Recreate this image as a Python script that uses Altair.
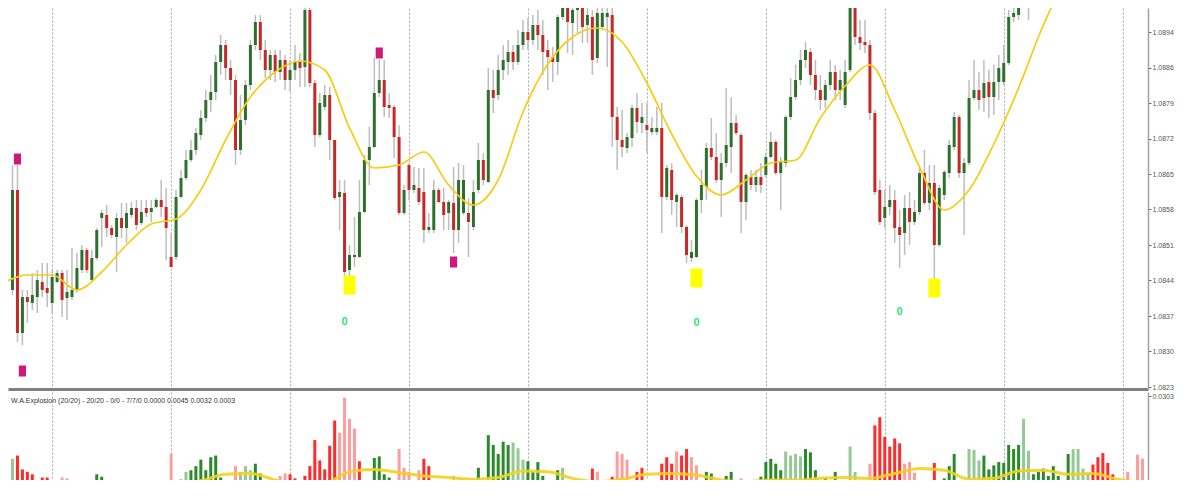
import altair as alt
import pandas as pd

# ---------------- data (prices in points of 1e-5 above PRICE_BASE) ----------------
PRICE_BASE = 1.08

open_pts = [
    424, 490, 420, 620, 334, 406, 394, 406, 436, 424,
    394, 436, 454, 404, 406, 420, 460, 500, 440, 484,
    564, 570, 544, 526, 564, 544, 570, 584, 554, 584,
    576, 586, 600, 586, 486, 486, 606, 644, 680, 700,
    730, 764, 800, 816, 876, 910, 864, 840, 700, 760,
    830, 910, 956, 900, 860, 890, 856, 880, 840, 860,
    876, 866, 980, 834, 730, 786, 810, 720, 606, 614,
    460, 486, 486, 576, 680, 706, 814, 840, 790, 786,
    726, 574, 670, 620, 624, 616, 540, 540, 620, 596,
    574, 594, 540, 574, 574, 546, 620, 680, 636, 820,
    810, 860, 876, 896, 876, 910, 936, 920, 950, 930,
    900, 886, 876, 966, 1000, 954, 980, 1004, 950, 966,
    884, 946, 966, 970, 766, 720, 704, 724, 784, 754,
    750, 736, 736, 744, 606, 660, 596, 606, 546, 484,
    486, 600, 626, 704, 686, 640, 674, 706, 754, 730,
    596, 646, 630, 646, 650, 686, 716, 654, 674, 766,
    806, 840, 880, 896, 850, 820, 800, 830, 856, 820,
    790, 860, 994, 926, 916, 910, 774, 620, 564, 586,
    600, 546, 534, 584, 556, 576, 654, 594, 634, 510,
    610, 654, 706, 766, 654, 674, 804, 820, 804, 836,
    806, 836, 836, 874, 966, 970, 996, 1010, 1020, 1030,
    1024, 1040, 1050, 1060, 1070, 1080, 1090, 1100, 1110, 1120,
    1116, 1130, 1120, 1110, 1120, 1100, 1090, 1080, 1070, 1060,
    1040, 1010, 990, 1004,
]
close_pts = [
    490, 430, 620, 334, 406, 396, 410, 440, 420, 414,
    446, 454, 400, 416, 420, 464, 500, 460, 484, 540,
    574, 544, 530, 564, 544, 574, 584, 550, 576, 574,
    584, 600, 586, 544, 466, 606, 644, 680, 700, 734,
    764, 800, 816, 876, 910, 864, 840, 700, 760, 830,
    910, 956, 900, 860, 890, 856, 880, 840, 860, 876,
    864, 980, 834, 730, 794, 810, 720, 604, 616, 456,
    490, 490, 576, 680, 706, 814, 840, 786, 784, 726,
    574, 620, 620, 630, 596, 540, 546, 620, 596, 570,
    596, 540, 640, 640, 556, 616, 680, 640, 820, 804,
    860, 880, 896, 876, 910, 936, 920, 950, 930, 896,
    886, 876, 966, 1000, 956, 980, 1004, 946, 970, 880,
    974, 974, 974, 766, 720, 706, 726, 784, 756, 766,
    740, 744, 744, 606, 664, 600, 610, 546, 490, 496,
    600, 630, 704, 686, 640, 674, 710, 754, 734, 596,
    650, 630, 646, 630, 686, 716, 654, 676, 766, 806,
    840, 880, 900, 850, 820, 800, 830, 856, 820, 840,
    856, 994, 926, 914, 910, 774, 616, 556, 586, 600,
    544, 530, 584, 556, 576, 654, 594, 634, 510, 624,
    656, 710, 766, 654, 674, 804, 820, 800, 834, 806,
    836, 864, 874, 966, 974, 1000, 1010, 1020, 1030, 1024,
    1040, 1050, 1060, 1070, 1080, 1090, 1100, 1110, 1120, 1116,
    1130, 1120, 1110, 1120, 1100, 1090, 1080, 1070, 1060, 1050,
    1020, 990, 1004, 994,
]
high_pts = [
    510, 500, 670, 670, 420, 420, 454, 460, 474, 474,
    460, 460, 460, 460, 504, 494, 510, 504, 500, 544,
    580, 590, 550, 574, 594, 594, 596, 600, 600, 600,
    600, 604, 640, 624, 534, 620, 660, 700, 720, 744,
    780, 820, 850, 890, 930, 920, 880, 850, 810, 840,
    920, 970, 970, 920, 900, 900, 900, 890, 880, 910,
    894, 1000, 1000, 840, 814, 830, 826, 720, 640, 640,
    510, 566, 640, 690, 746, 884, 880, 880, 814, 790,
    750, 630, 674, 666, 664, 664, 574, 640, 624, 624,
    600, 666, 674, 670, 604, 640, 714, 694, 864, 860,
    890, 910, 920, 910, 940, 960, 964, 970, 980, 960,
    920, 906, 970, 1010, 1016, 1000, 1020, 1020, 986, 980,
    984, 1004, 1004, 1010, 786, 780, 734, 790, 814, 794,
    794, 766, 786, 794, 670, 674, 614, 610, 550, 520,
    604, 660, 714, 764, 734, 694, 824, 806, 770, 734,
    654, 660, 660, 674, 694, 736, 720, 686, 770, 844,
    870, 900, 916, 904, 880, 850, 840, 880, 870, 860,
    880, 1000, 1010, 960, 960, 920, 780, 640, 620, 630,
    620, 580, 610, 616, 600, 664, 700, 670, 670, 630,
    660, 720, 776, 770, 684, 840, 880, 856, 880, 860,
    870, 890, 910, 980, 1000, 1020, 1024, 1040, 1050, 1050,
    1060, 1070, 1080, 1090, 1100, 1110, 1120, 1130, 1140, 1140,
    1150, 1150, 1140, 1140, 1136, 1120, 1110, 1100, 1090, 1080,
    1060, 1030, 1020, 1020,
]
low_pts = [
    400, 420, 410, 316, 310, 354, 380, 374, 406, 386,
    374, 434, 366, 360, 400, 414, 454, 454, 436, 480,
    506, 526, 524, 456, 524, 514, 564, 540, 550, 566,
    556, 584, 566, 480, 466, 480, 604, 640, 676, 690,
    720, 756, 776, 800, 850, 840, 810, 670, 690, 750,
    820, 900, 880, 844, 840, 836, 840, 820, 816, 840,
    826, 826, 826, 706, 726, 780, 680, 600, 540, 446,
    446, 466, 484, 574, 630, 704, 806, 766, 764, 684,
    570, 570, 600, 614, 590, 514, 534, 534, 594, 540,
    540, 494, 514, 570, 486, 540, 614, 630, 634, 774,
    800, 840, 850, 860, 870, 900, 900, 910, 900, 850,
    820, 836, 850, 960, 894, 890, 934, 914, 914, 850,
    874, 940, 866, 706, 660, 686, 694, 706, 734, 734,
    694, 730, 730, 534, 600, 570, 546, 534, 474, 476,
    484, 574, 600, 680, 634, 566, 666, 654, 730, 534,
    560, 620, 616, 614, 646, 684, 650, 580, 666, 760,
    800, 830, 864, 830, 800, 780, 784, 820, 800, 800,
    784, 856, 910, 900, 894, 760, 610, 550, 544, 570,
    514, 464, 490, 510, 550, 570, 590, 580, 440, 506,
    600, 644, 700, 644, 530, 670, 800, 780, 776, 764,
    770, 800, 830, 870, 956, 960, 986, 960, 986, 990,
    1004, 1010, 994, 1044, 1054, 1064, 1074, 1084, 1094, 1100,
    1100, 1104, 1094, 1094, 1084, 1074, 1064, 1054, 1044, 1034,
    1010, 934, 950, 980,
]

# yellow moving average, read at every 5th bar
ma_bars = [0, 5, 10, 15, 20, 25, 30, 35, 40, 45, 50, 55, 60, 65, 70, 75,
           80, 85, 90, 95, 100, 105, 110, 115, 120, 125, 130, 135, 140, 145,
           150, 155, 160, 165, 170, 175, 180, 185, 190, 195, 200, 205, 210,
           215, 220, 225, 230, 233]
ma_pts = [434, 450, 450, 420, 456, 510, 552, 562, 620, 720, 806, 856, 878,
          860, 744, 664, 670, 696, 630, 590, 640, 776, 872, 926, 944, 916,
          834, 732, 648, 610, 640, 674, 680, 764, 828, 870, 780, 666, 580,
          620, 712, 824, 950, 1050, 1120, 1160, 1180, 1184]

# signal markers (bar index, price points)
pink_bars, pink_pts = [3, 4, 76, 91], [682, 258, 894, 476]
yellow_bars, yellow_pts = [70, 140, 188], [430, 444, 424]
green_bars, green_pts = [69, 140, 181], [356, 354, 376]

# Waddah Attar Explosion histogram (units of 1e-4)
wae_hist = [
    207, 224, 226, 230, 213, 210, 207, 195, 203, 203,
    190, 188, 203, 202, 192, 185, 185, 188, 192, 207,
    204, 195, 190, 185, 185, 185, 188, 188, 190, 190,
    188, 190, 192, 197, 232, 195, 201, 210, 212, 217,
    225, 212, 228, 230, 203, 195, 197, 217, 210, 217,
    212, 220, 208, 198, 194, 196, 205, 208, 207, 202,
    198, 205, 217, 249, 224, 213, 242, 273, 258, 301,
    275, 263, 223, 197, 194, 227, 229, 207, 203, 195,
    238, 215, 210, 197, 212, 226, 217, 195, 192, 196,
    198, 205, 194, 190, 192, 197, 215, 200, 255, 243,
    232, 247, 243, 246, 239, 225, 223, 210, 222, 205,
    197, 195, 212, 215, 198, 194, 192, 190, 195, 214,
    210, 198, 200, 204, 235, 232, 225, 197, 210, 215,
    198, 195, 197, 220, 228, 220, 235, 230, 238, 228,
    218, 200, 210, 208, 197, 198, 205, 210, 197, 202,
    195, 192, 197, 204, 222, 226, 220, 212, 235, 230,
    232, 229, 238, 234, 212, 200, 203, 198, 210, 197,
    200, 241, 210, 198, 200, 220, 267, 277, 253, 241,
    251, 245, 220, 222, 209, 197, 195, 200, 221, 197,
    202, 217, 232, 198, 200, 238, 237, 224, 230, 213,
    218, 222, 221, 243, 238, 243, 275, 236, 207, 210,
    214, 205, 217, 205, 198, 232, 238, 238, 214, 209,
    219, 228, 233, 221, 207, 198, 195, 210, 200, 231,
    226, 240, 227, 221,
]
wae_color = list(
    "rggRRRRRRR" "RrrrrrGGGG" "GGggrrGGGg" "gGrrrrggGG" "GGGGGggrgg"
    "gGGGgrrrRR" "RRRRRRRRrr" "rrRRGGGGGr" "rrrrrRRRRr" "rrrGGGGGGG"
    "GGGgggGGGG" "ggGgggGrrR" "rrRRrrrrRR" "RrRRRRrRRr" "rrGGgGGGgr"
    "rGGGGGGGgg" "ggGGGGGgGg" "gggrrrRRRR" "RRrrrrRRRG" "GGGGggggGG"
    "GGGGGGggGG" "GGGGGGgggg" "RRRRRrrrrr" "rrRR"
)
wae_line_bars = ma_bars
wae_line = [190, 192, 190, 188, 188, 190, 192, 195, 199, 207, 208, 200, 194,
            196, 210, 213, 209, 205, 203, 201, 203, 211, 210, 202, 198, 201,
            207, 208, 206, 200, 198, 200, 200, 202, 203, 202, 208, 214, 212,
            201, 202, 211, 212, 207, 208, 201, 197, 195]

price_ticks = [1.08936, 1.08865, 1.08794, 1.08723, 1.08652, 1.08581,
               1.08510, 1.08439, 1.08368, 1.08297, 1.08226]
wae_ticks = [0.0303]
grid_bars = [10, 34, 58, 82, 106, 130, 154, 178, 202, 226]
indicator_label = "W.A.Explosion (20/20) - 20/20 - 0/0 - 7/7/0  0.0000 0.0045 0.0032 0.0003"

# ---------------- frames ----------------
def px(v):
    return PRICE_BASE + v / 1e5

n = min(len(open_pts), len(close_pts), len(high_pts), len(low_pts))
candles = pd.DataFrame({
    "bar": list(range(n)),
    "open": [px(v) for v in open_pts[:n]],
    "close": [px(v) for v in close_pts[:n]],
    "high": [px(v) for v in high_pts[:n]],
    "low": [px(v) for v in low_pts[:n]],
})
candles["dir"] = ["up" if c >= o else "down" for o, c in zip(candles["open"], candles["close"])]

ma_df = pd.DataFrame({"bar": ma_bars, "ma": [px(v) for v in ma_pts]})
pink_df = pd.DataFrame({"bar": pink_bars, "p": [px(v) for v in pink_pts]})
yellow_df = pd.DataFrame({"bar": yellow_bars, "p": [px(v) for v in yellow_pts]})
green_df = pd.DataFrame({"bar": green_bars, "p": [px(v) for v in green_pts]})

m = min(len(wae_hist), len(wae_color))
hist_df = pd.DataFrame({"bar": list(range(m)),
                        "h": [v / 1e4 for v in wae_hist[:m]],
                        "c": wae_color[:m]})
wline_df = pd.DataFrame({"bar": wae_line_bars, "w": [v / 1e4 for v in wae_line]})
label_df = pd.DataFrame({"t": [indicator_label]})

# ---------------- scales / axes ----------------
W = 1140
H_MAIN = 381
H_SUB = 88
X0 = 2.1
X1 = X0 + W / 5.0

xscale = alt.Scale(domain=[X0, X1], nice=False, zero=False)
x_main_axis = alt.Axis(values=grid_bars, grid=True, gridDash=[2, 2], gridColor="#a8a8a8",
                       gridWidth=1, labels=False, ticks=False, domain=True,
                       domainColor="#808080", domainWidth=3, title=None)
x_sub_axis = alt.Axis(values=grid_bars, grid=True, gridDash=[2, 2], gridColor="#a8a8a8",
                      gridWidth=1, labels=False, ticks=False, domain=False, title=None)

yscale = alt.Scale(domain=[1.08222, 1.08984], nice=False, zero=False)
y_axis = alt.Axis(orient="right", values=price_ticks, format=".4f", grid=False,
                  domainColor="#a0a0a0", domainWidth=1.5, tickColor="#666", tickSize=3,
                  labelFontSize=7, labelColor="#555", labelPadding=1, title=None)
wscale = alt.Scale(domain=[0.0200, 0.0308], nice=False, zero=False)
w_axis = alt.Axis(orient="right", values=wae_ticks, format=".4f", grid=False,
                  domainColor="#a0a0a0", domainWidth=1.5, tickColor="#666", tickSize=3,
                  labelFontSize=7, labelColor="#555", labelPadding=1, title=None)

in_view = alt.FieldRangePredicate(field="bar", range=[X0 - 0.3, X1 + 0.3])

X = alt.X("bar:Q", scale=xscale, axis=x_main_axis)
Xs = alt.X("bar:Q", scale=xscale, axis=x_sub_axis)

wick = alt.Chart(candles).transform_filter(in_view).mark_rule(
    clip=True, color="#bdbdbd", strokeWidth=1.5).encode(
    x=X, y=alt.Y("low:Q", scale=yscale, axis=y_axis), y2="high:Q")
body = alt.Chart(candles).transform_filter(in_view).mark_bar(clip=True, size=3).encode(
    x=X, y=alt.Y("open:Q", scale=yscale, axis=y_axis), y2="close:Q",
    color=alt.Color("dir:N", scale=alt.Scale(domain=["up", "down"], range=["#2e6f2e", "#c62828"]),
                    legend=None))
ma = alt.Chart(ma_df).mark_line(clip=True, interpolate="monotone", color="#f7cd12",
                                strokeWidth=1.7).encode(
    x=X, y=alt.Y("ma:Q", scale=yscale, axis=y_axis))
pink = alt.Chart(pink_df).mark_point(clip=True, shape="M-0.65,-1H0.65V1H-0.65Z", size=121,
                                     filled=True, color="#d0177c", opacity=1).encode(
    x=X, y=alt.Y("p:Q", scale=yscale, axis=y_axis))
yellow = alt.Chart(yellow_df).mark_point(clip=True, shape="M-0.63,-1H0.63V1H-0.63Z", size=361,
                                         filled=True, color="#ffff00", opacity=1).encode(
    x=X, y=alt.Y("p:Q", scale=yscale, axis=y_axis))
green = alt.Chart(green_df).mark_text(clip=True, text="0", fontSize=11, fontWeight="bold",
                                      color="#2fe07c", font="Liberation Sans").encode(
    x=X, y=alt.Y("p:Q", scale=yscale, axis=y_axis))

main = alt.layer(wick, body, ma, pink, yellow, green).properties(width=W, height=H_MAIN)

bars = alt.Chart(hist_df).transform_filter(in_view).mark_bar(clip=True, size=3).encode(
    x=Xs, y=alt.Y("h:Q", scale=wscale, axis=w_axis), y2=alt.datum(0.0),
    color=alt.Color("c:N", scale=alt.Scale(domain=["G", "g", "R", "r"],
                                           range=["#2a8a2a", "#94c894", "#ff2a2a", "#ff9c9c"]),
                    legend=None))
wline = alt.Chart(wline_df).mark_line(clip=True, interpolate="monotone", color="#f2d21b",
                                      strokeWidth=3, opacity=0.9).encode(
    x=Xs, y=alt.Y("w:Q", scale=wscale, axis=w_axis))
label = alt.Chart(label_df).mark_text(align="left", baseline="middle", fontSize=7,
                                      color="#333", font="Liberation Sans").encode(
    x=alt.value(3), y=alt.value(9), text="t:N")

sub = alt.layer(bars, wline, label).properties(width=W, height=H_SUB)

chart = alt.vconcat(main, sub, spacing=2).resolve_scale(color="independent").properties(
    padding=0,
    background="white",
).configure_view(stroke=None).configure_axis(labelFont="Liberation Sans")

chart.save("out.html", embed_options={"renderer": "svg", "actions": False})
